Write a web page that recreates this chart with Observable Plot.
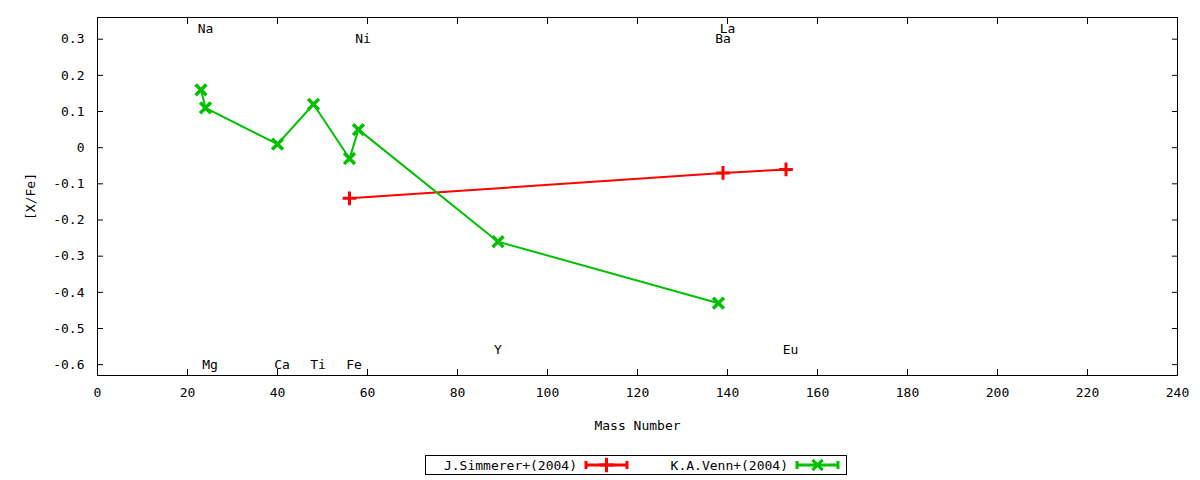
<!DOCTYPE html>
<html>
<head>
<meta charset="utf-8">
<script src="https://cdn.jsdelivr.net/npm/d3@7"></script>
<script src="https://cdn.jsdelivr.net/npm/@observablehq/plot@0.6"></script>
<style>
  html, body { margin: 0; padding: 0; background: #fff; }
  #chart svg { display: block; }
  text { font-family: "DejaVu Sans Mono", monospace; }
</style>
</head>
<body>
<div id="chart"></div>
<script>
// ---- data ----
const vennElements = ["Na", "Mg", "Ca", "Ti", "Fe", "Ni", "Y", "Ba"];
const vennMass = [23, 24, 40, 48, 56, 58, 89, 138];
const vennXFe = [0.16, 0.11, 0.01, 0.12, -0.03, 0.05, -0.26, -0.43];

const simmElements = ["Fe", "La", "Eu"];
const simmMass = [56, 139, 153];
const simmXFe = [-0.14, -0.07, -0.06];

const labelText = ["Na", "Mg", "Ca", "Ti", "Fe", "Ni", "Y", "Ba", "La", "Eu"];
const labelX = [24, 25, 41, 49, 57, 59, 89, 139, 140, 154];
const labelY = [0.33, -0.60, -0.60, -0.60, -0.60, 0.30, -0.56, 0.30, 0.33, -0.56];

const xTicks = [0, 20, 40, 60, 80, 100, 120, 140, 160, 180, 200, 220, 240];
const yTicks = [-0.6, -0.5, -0.4, -0.3, -0.2, -0.1, 0, 0.1, 0.2, 0.3];

const seriesNames = ["J.Simmerer+(2004)", "K.A.Venn+(2004)"];
const seriesColors = ["#ff0000", "#00c000"];

// ---- tables ----
const venn = vennElements.map((e, i) => ({el: e, x: vennMass[i], y: vennXFe[i]}));
const simm = simmElements.map((e, i) => ({el: e, x: simmMass[i], y: simmXFe[i]}));
const labels = labelText.map((t, i) => ({t, x: labelX[i], y: labelY[i]}));

const fmtY = d => Math.abs(d) < 1e-9 ? "0" : d.toFixed(1);
const font = "DejaVu Sans Mono";
const T = 6; // inward tick length

const plot = Plot.plot({
  width: 1200,
  height: 445,
  marginLeft: 97,
  marginRight: 23,
  marginTop: 17,
  marginBottom: 70,
  style: {fontFamily: font, fontSize: "13px", color: "black", background: "white", overflow: "visible"},
  x: {domain: [0, 240]},
  y: {domain: [-0.63, 0.36]},
  marks: [
    Plot.frame({stroke: "black", strokeWidth: 1}),
    // tick labels
    Plot.axisX(xTicks, {anchor: "bottom", tickSize: 0, tickPadding: 12, fontSize: 13, label: "Mass Number", labelAnchor: "center", labelArrow: "none", labelOffset: 54}),
    Plot.axisY(yTicks, {anchor: "left", tickSize: 0, tickPadding: 13, tickFormat: fmtY, fontSize: 13, label: "[X/Fe]", labelAnchor: "center", labelArrow: "none", labelOffset: 72}),
    // inward ticks (mirrored): outward ticks shifted into the frame
    Plot.axisX(xTicks, {anchor: "bottom", tickSize: T, dy: -T, tickFormat: () => "", label: null, stroke: "black"}),
    Plot.axisX(xTicks, {anchor: "top", tickSize: T, dy: T, tickFormat: () => "", label: null, stroke: "black"}),
    Plot.axisY(yTicks, {anchor: "left", tickSize: T, dx: T, tickFormat: () => "", label: null, stroke: "black"}),
    Plot.axisY(yTicks, {anchor: "right", tickSize: T, dx: -T, tickFormat: () => "", label: null, stroke: "black"}),
    // element labels
    Plot.text(labels, {x: "x", y: "y", text: "t", fontSize: 13, fill: "black", textAnchor: "middle"}),
    // series
    Plot.line(simm, {x: "x", y: "y", stroke: seriesColors[0], strokeWidth: 2}),
    Plot.line(venn, {x: "x", y: "y", stroke: seriesColors[1], strokeWidth: 2}),
    Plot.dot(simm, {x: "x", y: "y", symbol: "plus", r: 4.5, stroke: seriesColors[0], strokeWidth: 3}),
    Plot.dot(venn, {x: "x", y: "y", symbol: "times", r: 5, stroke: seriesColors[1], strokeWidth: 3.5})
  ]
});
document.getElementById("chart").appendChild(plot);

// ---- legend below the chart ----
const lg = d3.select("#chart").append("svg")
  .attr("width", 1200).attr("height", 35)
  .style("display", "block");
lg.append("rect").attr("x", 425.5).attr("y", 10.5).attr("width", 421).attr("height", 19)
  .attr("fill", "none").attr("stroke", "black");
const entries = [
  {name: seriesNames[0], color: seriesColors[0], textEnd: 577, x1: 586, x2: 627, sym: d3.symbolPlus},
  {name: seriesNames[1], color: seriesColors[1], textEnd: 788, x1: 797, x2: 838, sym: d3.symbolTimes}
];
entries.forEach(e => {
  lg.append("text").attr("x", e.textEnd).attr("y", 20).attr("dy", "0.35em")
    .attr("text-anchor", "end").attr("font-size", 13).attr("font-family", font).text(e.name);
  lg.append("line").attr("x1", e.x1).attr("x2", e.x2).attr("y1", 20).attr("y2", 20)
    .attr("stroke", e.color).attr("stroke-width", 3);
  [e.x1, e.x2].forEach(x => lg.append("line").attr("x1", x).attr("x2", x).attr("y1", 16).attr("y2", 24)
    .attr("stroke", e.color).attr("stroke-width", 3));
  lg.append("path").attr("d", d3.symbol(e.sym, 70)())
    .attr("transform", `translate(${(e.x1 + e.x2) / 2},20)`)
    .attr("fill", "none").attr("stroke", e.color).attr("stroke-width", 3);
});
</script>
</body>
</html>
